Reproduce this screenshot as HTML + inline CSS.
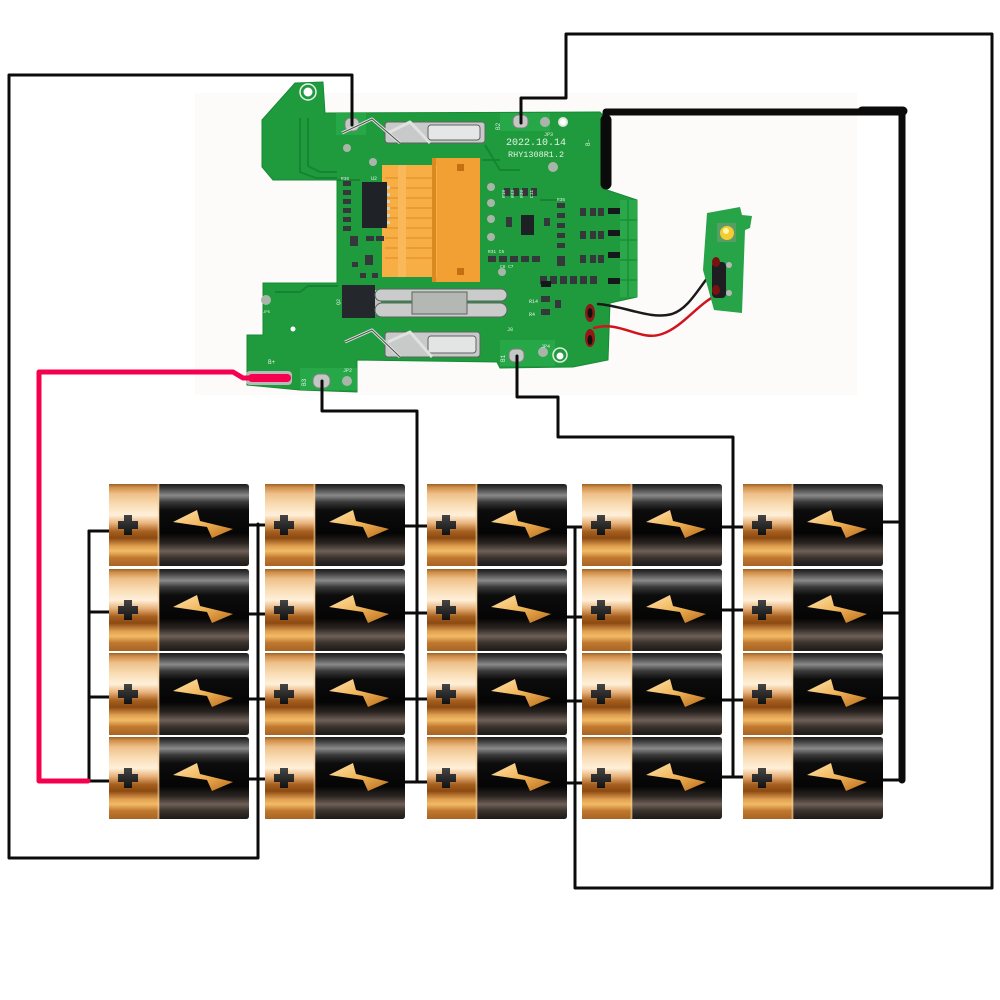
<!DOCTYPE html>
<html><head><meta charset="utf-8">
<style>html,body{margin:0;padding:0;background:#fff}svg{display:block}</style>
</head>
<body>
<svg width="1000" height="1000" viewBox="0 0 1000 1000">
<defs>
<linearGradient id="gold" x1="0" y1="0" x2="0" y2="1">
<stop offset="0" stop-color="#9a6228"/>
<stop offset="0.04" stop-color="#d08e48"/>
<stop offset="0.12" stop-color="#eec08a"/>
<stop offset="0.25" stop-color="#f9dcb4"/>
<stop offset="0.38" stop-color="#fff0da"/>
<stop offset="0.48" stop-color="#e8b27a"/>
<stop offset="0.58" stop-color="#a65f1e"/>
<stop offset="0.66" stop-color="#8c4a12"/>
<stop offset="0.76" stop-color="#e0a050"/>
<stop offset="0.82" stop-color="#f2bb66"/>
<stop offset="0.90" stop-color="#c07830"/>
<stop offset="1" stop-color="#a86424"/>
</linearGradient>
<linearGradient id="blk" x1="0" y1="0" x2="0" y2="1">
<stop offset="0" stop-color="#1a1a1a"/>
<stop offset="0.05" stop-color="#3c3c3c"/>
<stop offset="0.14" stop-color="#8a8a8a"/>
<stop offset="0.22" stop-color="#3a3a3a"/>
<stop offset="0.32" stop-color="#0c0c0c"/>
<stop offset="0.60" stop-color="#050505"/>
<stop offset="0.72" stop-color="#2a2420"/>
<stop offset="0.82" stop-color="#6e6058"/>
<stop offset="0.90" stop-color="#3a322c"/>
<stop offset="1" stop-color="#1c1a18"/>
</linearGradient>
<linearGradient id="bolt" x1="0" y1="0" x2="1" y2="1">
<stop offset="0" stop-color="#ffe4ae"/>
<stop offset="0.5" stop-color="#f0b458"/>
<stop offset="1" stop-color="#b86a18"/>
</linearGradient>
<linearGradient id="plus" x1="0" y1="0" x2="0" y2="1">
<stop offset="0" stop-color="#454545"/>
<stop offset="1" stop-color="#111"/>
</linearGradient>
<g id="b">
<rect width="51" height="82" fill="url(#gold)"/>
<path d="M50,0H137Q140,0 140,3V79Q140,82 137,82H50Z" fill="url(#blk)"/>
<rect x="48.5" width="2" height="82" fill="#f5cf98" opacity=".55"/>
<path d="M15,31H23V37H29V45H23V51H15V45H9V37H15Z" fill="url(#plus)"/>
<polygon points="64,38 88,26 91,37 124,45 103,54 98,43" fill="url(#bolt)"/>
</g>
</defs>

<rect width="1000" height="1000" fill="#fff"/>
<rect x="195" y="93" width="662" height="302" fill="#fdfafa"/>

<!-- PCB -->
<polygon points="295,83 323,82 325,113 600,112 607,120 607,190 637,200 637,297 610,303 608,360 573,367 500,368 497,362 357,360 357,392 300,390 247,385 247,335 263,335 263,283 337,283 337,180 273,180 262,167 262,120" fill="#1f9b3e" stroke="#178a35" stroke-width="1"/>
<!-- traces -->
<g fill="none" stroke="#168533" stroke-width="2">
<path d="M300,118V172L316,178H337"/>
<path d="M308,118V166L320,172H337"/>
<path d="M275,292H300L308,286H338"/>
<path d="M337,180H360"/>
<path d="M485,145L500,170H520"/>
<path d="M540,200L560,200"/>
<path d="M482,160H500"/>
</g>
<!-- lighter copper areas -->
<rect x="336" y="113" width="30" height="22" fill="#27a848"/>
<rect x="500" y="113" width="50" height="18" fill="#27a848"/>
<rect x="300" y="368" width="57" height="22" fill="#27a848"/>
<rect x="500" y="340" width="55" height="26" fill="#27a848"/>
<!-- right edge connector -->
<rect x="620" y="200" width="17" height="97" fill="#2aa84a"/>
<path d="M628,200V297M620,220H637M620,240H637M620,260H637M620,280H637" stroke="#178a35" stroke-width="1.2"/>
<!-- holes -->
<circle cx="308" cy="92" r="8" fill="none" stroke="#e8f4e8" stroke-width="1.5"/>
<circle cx="308" cy="92" r="4.5" fill="#fff"/>
<circle cx="563" cy="122" r="5" fill="#dfe8df"/>
<circle cx="563" cy="122" r="3" fill="#fff"/>
<circle cx="560" cy="355" r="7" fill="none" stroke="#e0ece0" stroke-width="1.5"/>
<circle cx="560" cy="356" r="3.5" fill="#fff"/>
<circle cx="293" cy="329" r="2.5" fill="#fff"/>
<!-- gray test pads -->
<g fill="#a9b5a9">
<circle cx="373" cy="162" r="4"/><circle cx="553" cy="167" r="5"/>
<circle cx="491" cy="187" r="4"/><circle cx="491" cy="203" r="4"/><circle cx="491" cy="219" r="4"/><circle cx="491" cy="237" r="4"/>
<circle cx="502" cy="272" r="4"/><circle cx="545" cy="122" r="5"/><circle cx="543" cy="352" r="5"/>
<circle cx="347" cy="381" r="5"/><circle cx="266" cy="300" r="5"/><circle cx="347" cy="148" r="4"/>
</g>
<!-- pads -->
<g fill="#c4c8c4" stroke="#7a807a" stroke-width="1">
<rect x="345" y="118" width="14" height="13" rx="5"/>
<rect x="513" y="115" width="15" height="13" rx="5"/>
<rect x="509" y="349" width="15" height="13" rx="5"/>
<rect x="313" y="374" width="17" height="14" rx="6"/>
</g>
<!-- B+ pad -->
<rect x="246" y="371" width="46" height="14" rx="4" fill="#b9b9b9"/>
<!-- orange connector -->
<rect x="432" y="158" width="48" height="124" fill="#f2a033"/>
<rect x="382" y="165" width="55" height="112" fill="#f6ae45"/>
<g stroke="#e08a20" stroke-width="1">
<path d="M385,178H432M385,188H432M385,198H432M385,208H432M385,218H432M385,228H432M385,238H432M385,248H432M385,258H432"/>
</g>
<rect x="398" y="165" width="8" height="112" fill="#f9b85a"/>
<rect x="432" y="158" width="4" height="124" fill="#d98a20"/>
<rect x="457" y="164" width="7" height="7" fill="#c46e10"/>
<rect x="457" y="268" width="7" height="7" fill="#c46e10"/>
<!-- ICs -->
<rect x="362" y="182" width="25" height="46" fill="#1f2328"/>
<g fill="#cfd3cf"><rect x="387" y="186" width="3" height="3"/><rect x="387" y="193" width="3" height="3"/><rect x="387" y="200" width="3" height="3"/><rect x="387" y="207" width="3" height="3"/><rect x="387" y="214" width="3" height="3"/><rect x="387" y="221" width="3" height="3"/></g>
<rect x="342" y="285" width="33" height="33" fill="#24282c"/>
<rect x="375" y="290" width="6" height="24" fill="#bfc3bf"/>
<rect x="521" y="215" width="13" height="20" fill="#1d2024"/>
<!-- small components -->
<g fill="#34383a">
<rect x="343" y="181" width="8" height="5"/><rect x="343" y="190" width="8" height="5"/><rect x="343" y="199" width="8" height="5"/><rect x="343" y="208" width="8" height="5"/><rect x="343" y="217" width="8" height="5"/><rect x="343" y="226" width="8" height="5"/>
<rect x="350" y="236" width="8" height="10"/><rect x="366" y="236" width="8" height="5"/><rect x="376" y="236" width="8" height="5"/>
<rect x="365" y="255" width="8" height="10"/><rect x="352" y="262" width="6" height="5"/><rect x="360" y="273" width="6" height="5"/><rect x="372" y="273" width="6" height="5"/>
<rect x="504" y="188" width="6" height="8"/><rect x="513" y="188" width="6" height="8"/><rect x="522" y="188" width="6" height="8"/><rect x="531" y="188" width="6" height="8"/>
<rect x="506" y="217" width="6" height="10"/><rect x="544" y="218" width="6" height="8"/>
<rect x="557" y="203" width="8" height="5"/><rect x="557" y="213" width="8" height="5"/><rect x="557" y="223" width="8" height="5"/><rect x="557" y="233" width="8" height="5"/><rect x="557" y="243" width="8" height="5"/>
<rect x="580" y="208" width="6" height="8"/><rect x="590" y="208" width="6" height="8"/><rect x="598" y="208" width="6" height="8"/>
<rect x="580" y="231" width="6" height="8"/><rect x="590" y="231" width="6" height="8"/><rect x="598" y="231" width="6" height="8"/>
<rect x="580" y="255" width="6" height="8"/><rect x="590" y="255" width="6" height="8"/><rect x="598" y="255" width="6" height="8"/>
<rect x="488" y="256" width="8" height="6"/><rect x="499" y="256" width="8" height="6"/><rect x="510" y="256" width="8" height="6"/><rect x="521" y="256" width="8" height="6"/><rect x="532" y="256" width="8" height="6"/>
<rect x="557" y="256" width="8" height="10"/>
<rect x="540" y="276" width="7" height="8"/><rect x="550" y="276" width="7" height="8"/><rect x="560" y="276" width="7" height="8"/><rect x="570" y="276" width="7" height="8"/><rect x="580" y="276" width="7" height="8"/><rect x="590" y="276" width="7" height="8"/>
<rect x="541" y="296" width="9" height="6"/><rect x="541" y="309" width="9" height="6"/><rect x="555" y="300" width="6" height="8"/>
</g>
<g fill="#15181a">
<rect x="608" y="208" width="12" height="6"/><rect x="608" y="230" width="12" height="6"/><rect x="608" y="252" width="12" height="6"/><rect x="608" y="278" width="12" height="6"/>
<rect x="541" y="281" width="10" height="6"/>
</g>
<!-- clips -->
<g stroke="#5f6360" stroke-width="1">
<rect x="385" y="122" width="100" height="21" rx="3" fill="#c7cac8"/>
<rect x="428" y="125" width="52" height="15" rx="3" fill="#e4e7e5"/>
<rect x="385" y="332" width="95" height="25" rx="3" fill="#c7cac8"/>
<rect x="428" y="336" width="48" height="17" rx="3" fill="#e2e5e3"/>
<rect x="375" y="289" width="132" height="12" rx="6" fill="#c9ccca"/>
<rect x="375" y="303" width="132" height="14" rx="7" fill="#c9ccca"/>
<rect x="412" y="292" width="55" height="22" fill="#b4b8b5"/>
</g>
<g fill="none" stroke="#dfe2e0" stroke-width="3" stroke-linejoin="round">
<path d="M342,133L372,119L400,143"/>
<path d="M388,133L410,122L430,143"/>
<path d="M345,342L372,330L400,357"/>
<path d="M388,342L410,332L432,357"/>
</g>
<g fill="none" stroke="#4d514e" stroke-width="1">
<path d="M342,133L372,119L400,143"/>
<path d="M345,342L372,330L400,357"/>
</g>
<!-- texts -->
<g fill="#e4f1e4" font-family="Liberation Mono, monospace">
<text x="506" y="145" font-size="10">2022.10.14</text>
<text x="508" y="157" font-size="8.5">RHY1308R1.2</text>
<text x="544" y="136" font-size="5">JP3</text>
<text x="541" y="348" font-size="5">JP4</text>
<text x="343" y="372" font-size="5">JP2</text>
<text x="263" y="313" font-size="4">JP5</text>
<text x="507" y="331" font-size="5">J8</text>
<text x="268" y="364" font-size="6">B+</text>
<text x="371" y="180" font-size="5">U2</text>
<text x="341" y="180" font-size="4.5">R36</text>
<text x="488" y="253" font-size="4.5">R31 C5</text>
<text x="500" y="268" font-size="4.5">C6 C7</text>
<text x="529" y="303" font-size="5">R14</text>
<text x="529" y="316" font-size="5">R4</text>
<text x="557" y="201" font-size="4.5">R35</text>
<text transform="translate(500,130) rotate(-90)" font-size="6">B2</text>
<text transform="translate(590,146) rotate(-90)" font-size="6">B-</text>
<text transform="translate(505,362) rotate(-90)" font-size="6">B1</text>
<text transform="translate(306,386) rotate(-90)" font-size="6">B3</text>
<text transform="translate(340,305) rotate(-90)" font-size="5">Q2</text>
<text transform="translate(505,198) rotate(-90)" font-size="4.5">R19</text>
<text transform="translate(514,198) rotate(-90)" font-size="4.5">R43</text>
<text transform="translate(523,198) rotate(-90)" font-size="4.5">R39</text>
<text transform="translate(533,198) rotate(-90)" font-size="4.5">C11</text>
</g>

<!-- red/black cables to LED board -->
<g fill="none" stroke-linecap="round">
<path d="M598,304C625,306 650,320 672,314C690,308 700,285 714,270" stroke="#1a1a1a" stroke-width="2.5"/>
<path d="M594,328C620,320 640,342 662,334C685,326 700,300 722,293" stroke="#d0141e" stroke-width="2.5"/>
</g>
<ellipse cx="590" cy="313" rx="5" ry="9" fill="#8a1a1a"/>
<ellipse cx="590" cy="338" rx="5" ry="9" fill="#9a1616"/>
<ellipse cx="590" cy="313" rx="2.5" ry="5" fill="#111"/>
<ellipse cx="590" cy="340" rx="2.5" ry="5" fill="#111"/>
<!-- LED board -->
<polygon points="707,213 740,207 742,215 752,216 750,228 745,230 742,313 714,310 703,270" fill="#27a348"/>
<rect x="717" y="223" width="19" height="19" fill="#7a9a7a" opacity=".6"/>
<circle cx="727" cy="233" r="7" fill="#f4cc30"/>
<circle cx="726" cy="231" r="3" fill="#fff3b0"/>
<rect x="712" y="262" width="14" height="36" rx="4" fill="#1e1e22"/>
<circle cx="729" cy="265" r="3" fill="#b8b8b8"/>
<circle cx="729" cy="293" r="3" fill="#b8b8b8"/>
<ellipse cx="716" cy="262" rx="4" ry="5" fill="#7a1010"/>
<ellipse cx="716" cy="290" rx="4" ry="5" fill="#7a1010"/>

<!-- black wires -->
<g fill="none" stroke="#0b0b0b" stroke-width="3" stroke-linejoin="round" stroke-linecap="round">
<path d="M352,125V75H9V858H258V524"/>
<path d="M89,531V781"/>
<path d="M89,531H109M89,612H109M89,697H109M89,781H109"/>
<path d="M248,525H265M248,614H265M248,699H265M248,779H265"/>
<path d="M322,381V411H417V782"/>
<path d="M405,526H427M405,613H427M405,699H427M405,782H427"/>
<path d="M517,356V397H558V437H733V777"/>
<path d="M722,527H743M722,610H743M722,700H743M722,777H743"/>
<path d="M575,527V888H992V34H566V98H521V123"/>
<path d="M567,527H582M567,617H582M567,701H582M567,783H582"/>
<path d="M883,522H903M883,613H903M883,698H903M883,780H903"/>
</g>
<g fill="none" stroke="#0b0b0b" stroke-linejoin="round" stroke-linecap="round">
<path d="M606,118V112H902V780" stroke-width="7"/>
<path d="M862,111H903" stroke-width="9"/>
<path d="M606,120V184" stroke-width="11"/>
</g>
<!-- red wire -->
<g fill="none" stroke="#f5004e" stroke-linejoin="round" stroke-linecap="round">
<path d="M88,781H39V372H233L243,378H288" stroke-width="5"/>
<path d="M252,378H287" stroke-width="8"/>
</g>

<!-- batteries -->
<use href="#b" x="109" y="484"/><use href="#b" x="109" y="569"/><use href="#b" x="109" y="653"/><use href="#b" x="109" y="737"/>
<use href="#b" x="265" y="484"/><use href="#b" x="265" y="569"/><use href="#b" x="265" y="653"/><use href="#b" x="265" y="737"/>
<use href="#b" x="427" y="484"/><use href="#b" x="427" y="569"/><use href="#b" x="427" y="653"/><use href="#b" x="427" y="737"/>
<use href="#b" x="582" y="484"/><use href="#b" x="582" y="569"/><use href="#b" x="582" y="653"/><use href="#b" x="582" y="737"/>
<use href="#b" x="743" y="484"/><use href="#b" x="743" y="569"/><use href="#b" x="743" y="653"/><use href="#b" x="743" y="737"/>
</svg>
</body></html>
